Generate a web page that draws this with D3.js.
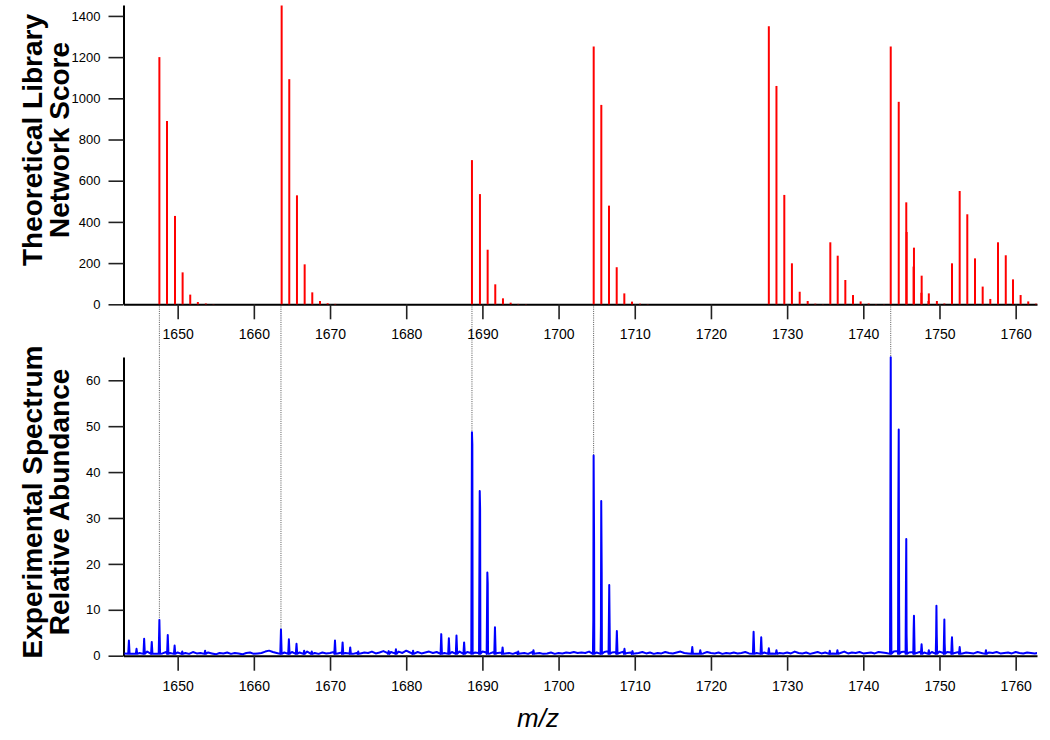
<!DOCTYPE html>
<html>
<head>
<meta charset="utf-8">
<script src="https://cdn.jsdelivr.net/npm/d3@7"></script>
<style>
body { margin: 0; background: #fff; }
svg { font-family: "Liberation Sans", Arial, Helvetica, sans-serif; }
</style>
</head>
<body>
<div id="chart-area"></div>
<script>
// theoretical library (red sticks)
var libMz = [
  1647.6, 1648.6, 1649.65, 1650.65, 1651.65, 1652.65, 1653.7, 1654.7,
  1663.65, 1664.65, 1665.66, 1666.67, 1667.67, 1668.68, 1669.69, 1670.69,
  1688.63, 1689.68, 1690.69, 1691.69, 1692.7, 1693.71, 1694.71, 1695.72,
  1704.61, 1705.61, 1706.62, 1707.63, 1708.63, 1709.64, 1710.69, 1711.7,
  1727.6, 1728.6, 1729.63, 1730.63, 1731.65, 1732.7, 1733.7, 1734.7,
  1735.67, 1736.64, 1737.64, 1738.65, 1739.65, 1740.7, 1741.66, 1742.7,
  1743.6, 1744.65, 1745.64, 1746.65, 1747.66, 1748.6, 1749.66, 1750.64,
  1745.69, 1746.6, 1747.62, 1748.55,
  1751.64, 1752.65, 1753.65, 1754.66, 1755.67, 1756.67, 1757.68, 1758.7,
  1759.65, 1760.65, 1761.65, 1762.67
];
var libScore = [
  1200, 890, 429, 155, 47, 11, 4, 1,
  1450, 1093, 529, 194, 58, 16, 5, 2,
  700, 535, 265, 97, 29, 8, 2, 1,
  1251, 968, 479, 180, 53, 13, 3, 1,
  1350, 1060, 531, 199, 61, 16, 3, 1,
  301, 236, 118, 45, 14, 4, 1, 1,
  1251, 983, 495, 275, 139, 53, 16, 4,
  351, 183, 56, 16,
  199, 550, 437, 223, 86, 26, 301, 238,
  121, 45, 14, 3
];

// experimental spectrum peaks (blue)
var specMz = [
  1643.6, 1644.6, 1645.6, 1646.6, 1647.6, 1648.7, 1649.6, 1650.6, 1653.6,
  1663.56, 1664.6, 1665.6, 1666.6, 1667.6,
  1670.65, 1671.65, 1672.65, 1673.7, 1677.7, 1678.65, 1680.9,
  1684.6, 1685.6, 1686.6, 1687.6, 1688.63, 1689.65, 1690.65, 1691.65, 1692.65,
  1694.7, 1696.7,
  1704.6, 1705.6, 1706.65, 1707.65, 1708.65, 1709.7,
  1717.55, 1718.6, 1725.6, 1726.6, 1727.6, 1728.6, 1735.6, 1736.6,
  1743.6, 1744.65, 1745.64, 1746.65, 1747.65, 1748.6,
  1749.6, 1750.64, 1751.64, 1752.65, 1756.1
];
var specInt = [
  3.3, 1.5, 3.7, 3.0, 7.8, 4.5, 2.2, 0.9, 1.1,
  5.7, 3.6, 2.6, 1.1, 0.9,
  3.3, 2.9, 1.8, 0.9, 1.0, 1.4, 1.1,
  4.7, 3.8, 4.4, 2.9, 48.7, 35.9, 18.1, 6.2, 1.8,
  0.9, 1.2,
  43.6, 33.7, 15.4, 5.4, 1.5, 1.0,
  1.9, 1.2, 5.2, 4.0, 1.6, 1.2, 1.1, 1.2,
  65.0, 49.3, 25.4, 8.7, 2.5, 1.2,
  10.9, 7.9, 4.0, 1.9, 1.2
];
// unresolved shoulders beside the main peaks
var shoulderMz = [
  1688.68, 1689.7, 1690.7, 1704.56, 1704.66, 1705.56, 1705.66, 1706.7,
  1743.56, 1743.65, 1744.6, 1744.7, 1745.6, 1745.68, 1746.61,
  1749.56, 1749.64, 1750.68, 1751.6
];
var shoulderInt = [
  46, 32, 15.8, 7.8, 24.8, 6.5, 18.3, 7.2,
  36.1, 16.3, 31.3, 10.9, 15.8, 4.7, 5.8,
  4.4, 4.7, 2.7, 2.8
];
// baseline noise, every 0.5 m/z from 1643
var noiseStart = 1643.0, noiseStep = 0.5;
var noise = [
  0.5,0.7,0.4,0.8,0.6,0.5,0.9,0.6,0.4,0.7,0.5,0.8,0.6,0.5,0.7,0.9,0.6,0.4,0.8,0.5,
  0.6,0.4,0.7,0.5,0.3,0.6,0.5,0.7,0.4,0.6,0.5,0.3,0.6,0.7,0.4,0.5,0.6,0.9,1.1,0.8,
  0.6,0.5,0.7,0.6,0.8,0.5,0.7,0.6,0.9,0.5,0.6,0.4,0.7,0.5,0.6,0.8,0.5,0.7,0.6,0.5,
  0.4,0.6,0.5,0.7,0.6,0.9,0.5,0.7,1.0,0.6,0.8,0.5,0.9,0.6,1.1,0.7,0.6,0.8,0.5,0.7,
  0.9,0.6,0.8,0.7,0.6,0.9,0.8,1.0,0.9,0.7,0.8,0.6,0.7,0.6,0.9,0.7,0.5,0.8,0.6,0.7,
  0.5,0.6,0.4,0.7,0.5,0.6,0.4,0.8,0.5,0.6,0.4,0.5,0.7,0.4,0.6,0.5,0.7,0.6,0.8,0.6,
  0.7,0.6,0.9,0.8,0.7,0.9,0.8,1.0,0.7,0.8,0.6,0.9,0.6,0.7,0.5,0.6,0.8,0.5,0.7,0.4,
  0.6,0.5,0.8,0.6,0.5,0.7,0.9,0.6,0.5,0.7,0.4,0.6,0.5,0.8,0.6,0.5,0.7,0.4,0.6,0.5,
  0.7,0.5,0.6,0.8,0.5,0.7,0.6,0.8,0.7,0.6,0.5,0.8,0.6,0.5,0.7,0.5,0.9,0.6,0.5,0.7,
  0.4,0.6,0.8,0.5,0.7,0.6,0.5,0.8,0.6,0.9,0.5,0.7,0.6,0.8,0.5,0.6,0.7,0.5,0.8,0.7,
  0.6,0.8,0.9,1.0,0.8,0.9,0.7,0.8,0.6,0.9,0.7,0.6,0.8,0.7,0.9,0.6,0.8,0.7,0.6,0.8,
  0.5,0.7,0.6,0.5,0.8,0.6,1.0,0.7,0.6,0.8,0.5,0.6,0.7,0.5,0.8,0.6,0.5,0.7,0.6,0.5,
  0.6
];
// matched monoisotopic peaks (dotted guides)
var matchMz = [1647.6, 1663.56, 1688.63, 1704.6, 1743.6];

var xTicks = [1650, 1660, 1670, 1680, 1690, 1700, 1710, 1720, 1730, 1740, 1750, 1760];
var topTicks = [0, 200, 400, 600, 800, 1000, 1200, 1400];
var botTicks = [0, 10, 20, 30, 40, 50, 60];

var svg = d3.select("#chart-area")
  .append("svg")
  .attr("width", 1050)
  .attr("height", 740);

var x = d3.scaleLinear().domain([1642.89, 1762.8]).range([123.5, 1037]);
var yTop = d3.scaleLinear().domain([0, 1453]).range([304.3, 5]);
var yBot = d3.scaleLinear().domain([0, 65.07]).range([655.7, 357]);

svg.append("clipPath").attr("id", "clip")
  .append("rect")
  .attr("x", x.range()[0]).attr("y", 0)
  .attr("width", x.range()[1] - x.range()[0]).attr("height", 740);

function styleAxis(g, size) {
  g.attr("font-family", null).attr("font-size", null);
  g.select(".domain").attr("stroke", "#000").attr("stroke-width", 2);
  g.selectAll(".tick line").attr("stroke", "#222").attr("stroke-width", 1.6);
  g.selectAll(".tick text").attr("fill", "#000").style("font-size", size + "px");
}

// dotted guide lines from library baseline to the experimental peak
function peakHeight(m) {
  var best = 0, dist = Infinity;
  specMz.forEach(function(p, i) {
    if (Math.abs(p - m) < dist) { dist = Math.abs(p - m); best = specInt[i]; }
  });
  return best;
}
svg.selectAll(".guide")
  .data(matchMz)
  .enter()
  .append("line")
  .attr("class", "guide")
  .attr("x1", function(d) { return x(d); })
  .attr("x2", function(d) { return x(d); })
  .attr("y1", yTop(0))
  .attr("y2", function(d) { return yBot(peakHeight(d)); })
  .attr("stroke", "#555")
  .attr("stroke-width", 1)
  .attr("stroke-dasharray", "1,1.2");

// top panel axes
var gTopX = svg.append("g")
  .attr("transform", "translate(0," + yTop(0) + ")")
  .call(d3.axisBottom(x).tickValues(xTicks).tickSize(15).tickSizeOuter(0)
    .tickPadding(10).tickFormat(d3.format("d")));
styleAxis(gTopX, 14);

var gTopY = svg.append("g")
  .attr("transform", "translate(" + x.range()[0] + ",0)")
  .call(d3.axisLeft(yTop).tickValues(topTicks).tickSize(15).tickSizeOuter(0)
    .tickPadding(8).tickFormat(d3.format("d")));
styleAxis(gTopY, 13);

// red library sticks
svg.append("g")
  .selectAll("line")
  .data(libMz)
  .enter()
  .append("line")
  .attr("x1", function(d) { return x(d); })
  .attr("x2", function(d) { return x(d); })
  .attr("y1", yTop(0))
  .attr("y2", function(d, i) { return yTop(libScore[i]); })
  .attr("stroke", "#ff0000")
  .attr("stroke-width", 2);

// bottom panel axes
var gBotX = svg.append("g")
  .attr("transform", "translate(0," + yBot(0) + ")")
  .call(d3.axisBottom(x).tickValues(xTicks).tickSize(15).tickSizeOuter(0)
    .tickPadding(10).tickFormat(d3.format("d")));
styleAxis(gBotX, 14);

var gBotY = svg.append("g")
  .attr("transform", "translate(" + x.range()[0] + ",0)")
  .call(d3.axisLeft(yBot).tickValues(botTicks).tickSize(15).tickSizeOuter(0)
    .tickPadding(8).tickFormat(d3.format("d")));
styleAxis(gBotY, 13);

// blue experimental profile
var pts = [];
noise.forEach(function(v, i) {
  var m = noiseStart + i * noiseStep;
  var near = specMz.some(function(p) { return Math.abs(p - m) < 0.1; });
  if (!near) pts.push([m, v]);
});
specMz.forEach(function(m, i) {
  pts.push([m - 0.09, 0.4], [m, specInt[i]], [m + 0.09, 0.4]);
});
shoulderMz.forEach(function(m, i) {
  pts.push([m, shoulderInt[i]]);
});
pts.sort(function(a, b) { return a[0] - b[0]; });

svg.append("path")
  .datum(pts)
  .attr("clip-path", "url(#clip)")
  .attr("fill", "none")
  .attr("stroke", "#0000ff")
  .attr("stroke-width", 2)
  .attr("stroke-linejoin", "round")
  .attr("d", d3.line()
    .x(function(d) { return x(d[0]); })
    .y(function(d) { return yBot(d[1]); }));

// axis titles
function yLabel(lines, cy) {
  var t = svg.append("text")
    .attr("transform", "translate(0," + cy + ") rotate(-90)")
    .attr("text-anchor", "middle")
    .style("font-weight", "bold")
    .style("font-size", "28px");
  t.append("tspan").attr("x", 0).attr("y", 42).text(lines[0]);
  t.append("tspan").attr("x", 0).attr("y", 69).text(lines[1]);
}
yLabel(["Theoretical Library", "Network Score"], 140);
yLabel(["Experimental Spectrum", "Relative Abundance"], 502);

svg.append("text")
  .attr("x", 538)
  .attr("y", 727)
  .attr("text-anchor", "middle")
  .style("font-style", "italic")
  .style("font-size", "26px")
  .text("m/z");
</script>
</body>
</html>
